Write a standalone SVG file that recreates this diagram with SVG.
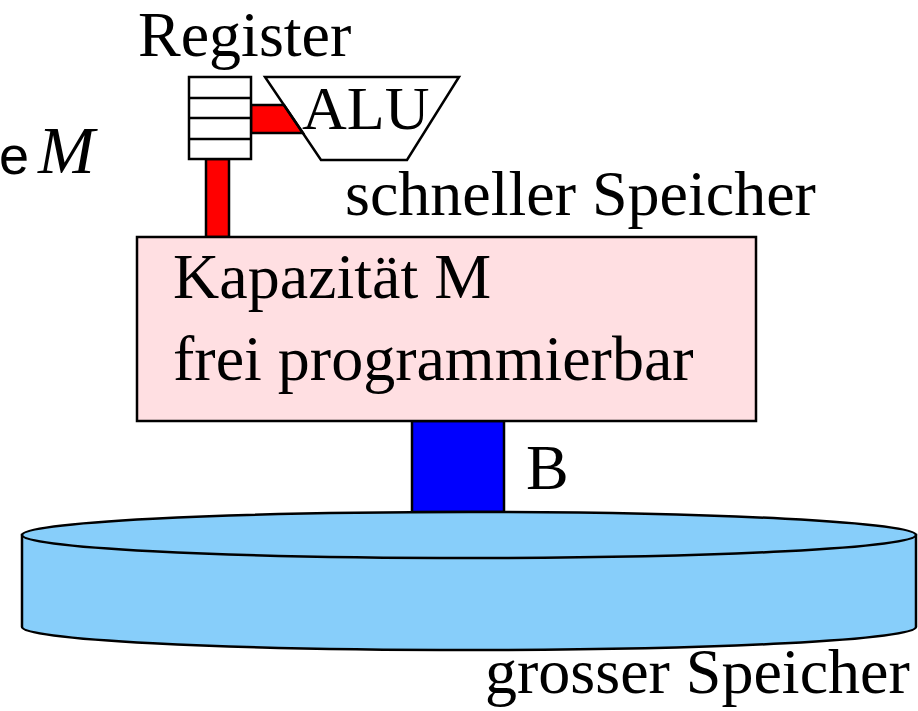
<svg xmlns="http://www.w3.org/2000/svg" width="918" height="711" viewBox="0 0 918 711">
<style>
.t{font-family:"Liberation Serif","Times New Roman",serif;font-size:64px;fill:#000}
.s{stroke:#000;stroke-width:2.5;stroke-linejoin:miter}
</style>
<rect width="918" height="711" fill="#fff"/>
<g id="connectors">
<rect class="s" x="206" y="159" width="23" height="78" fill="#ff0000"/>
<polygon class="s" points="251,105 284,105 303,133 251,133" fill="#ff0000"/>
<rect class="s" x="412" y="421" width="92" height="91" fill="#0000ff"/>
</g>
<g id="register">
<rect class="s" x="189" y="77" width="62" height="82" fill="#fff"/>
<line class="s" x1="189" y1="98" x2="251" y2="98"/>
<line class="s" x1="189" y1="118" x2="251" y2="118"/>
<line class="s" x1="189" y1="139" x2="251" y2="139"/>
<text class="t" x="138" y="56">Register</text>
</g>
<g id="alu">
<polygon class="s" points="265,77 459,77 407,160 321,160" fill="none"/>
<text class="t" x="302" y="129" style="font-size:62px">ALU</text>
</g>
<g id="label-m">
<text x="-1" y="174" style="font-family:'Liberation Sans',Arial,sans-serif;font-size:54px">e</text>
<text x="38" y="173" style="font-family:'Liberation Serif',serif;font-size:68px;font-style:italic">M</text>
</g>
<g id="schnell-label">
<text class="t" x="345" y="215">schneller Speicher</text>
</g>
<g id="memory">
<rect class="s" x="137" y="237" width="619" height="184" fill="#ffdfe2"/>
<text class="t" x="173" y="298">Kapazität M</text>
<text class="t" x="173" y="380">frei programmierbar</text>
</g>
<g id="b-label">
<text class="t" x="526" y="489">B</text>
</g>
<g id="disk">
<path class="s" d="M22,535 L22,627 A447,23 0 0 0 916,627 L916,535 Z" fill="#87cefa"/>
<ellipse class="s" cx="469" cy="535" rx="447" ry="23" fill="#87cefa"/>
<text class="t" x="485" y="693">grosser Speicher</text>
</g>
</svg>
